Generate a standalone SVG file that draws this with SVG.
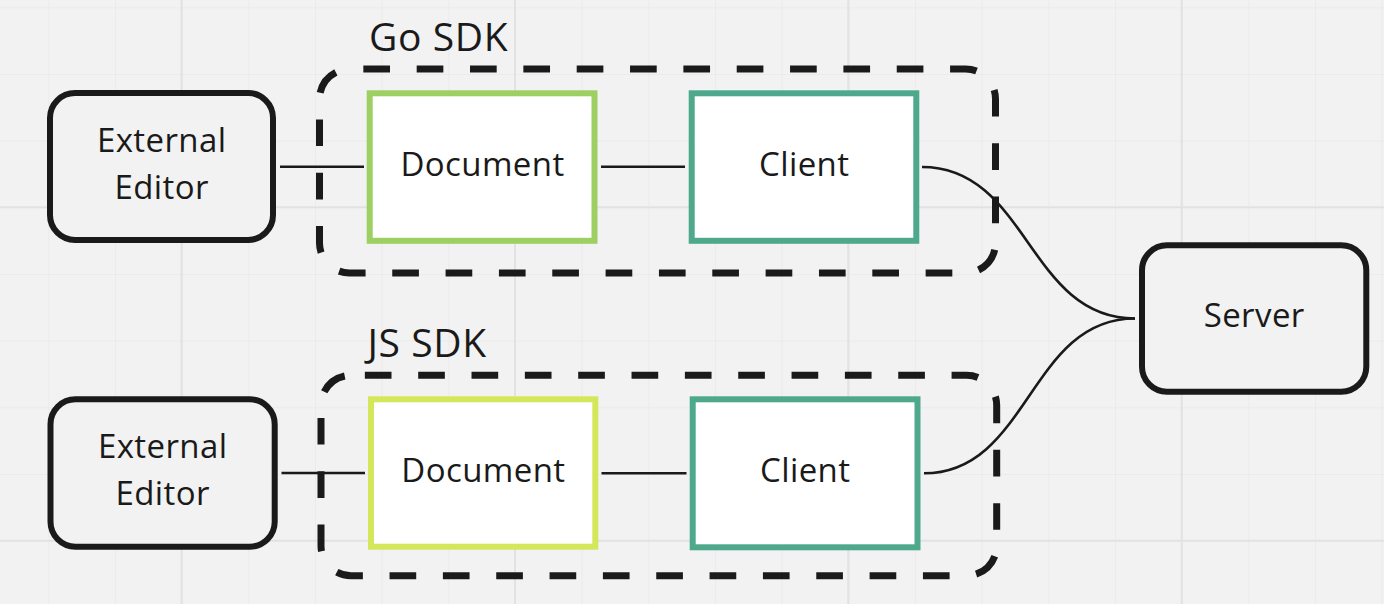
<svg xmlns="http://www.w3.org/2000/svg" width="1384" height="604" viewBox="0 0 1384 604">
<defs>
<pattern id="grid" x="48.3" y="7.3" width="66.667" height="66.667" patternUnits="userSpaceOnUse">
<path d="M0,0 V66.667 M0,0 H66.667" fill="none" stroke="#e9e9e9" stroke-width="1.5"/>
</pattern>
</defs>
<style>
.t{font-family:"Open Sans","Noto Sans","DejaVu Sans",sans-serif;fill:#1a1a1a;}
.n{font-size:33px;letter-spacing:0.4px;text-anchor:middle;}
.lbl{font-size:39px;letter-spacing:0.6px;}
.term{fill:#f2f2f2;stroke:#1a1a1a;stroke-width:6;}
.box{fill:#ffffff;stroke-width:6;}
.grp{fill:none;stroke:#1a1a1a;stroke-width:7;stroke-dasharray:26.67 26.67;}
.c{fill:none;stroke:#1a1a1a;stroke-width:2.6;}
</style>
<rect width="1384" height="604" fill="#f2f2f2"/>
<rect width="1384" height="604" fill="url(#grid)"/>
<path d="M181.6,0V604M515,0V604M848.3,0V604M1181.7,0V604M0,207.3H1384M0,540.7H1384" stroke="#e2e2e2" stroke-width="2" fill="none"/>

<g id="go-sdk">
<rect class="grp" x="319.5" y="69" width="676" height="204" rx="30" stroke-dashoffset="39.5"/>
<text class="t lbl" x="369" y="50.5">Go SDK</text>
</g>
<g id="js-sdk">
<rect class="grp" x="321" y="375.3" width="675.7" height="200.4" rx="30" stroke-dashoffset="39.5"/>
<text class="t lbl" x="367.5" y="356.7">JS SDK</text>
</g>

<g id="connectors">
<path class="c" d="M280,166.7H364"/>
<path class="c" d="M601,166.7H685"/>
<path class="c" d="M922,167 C1028,167 1028,318.5 1135,318.5"/>
<path class="c" d="M281.5,473H365"/>
<path class="c" d="M601.5,473.3H686.5"/>
<path class="c" d="M924,473.3 C1029,473.3 1029,318.5 1135,318.5"/>
</g>

<g id="external-editor-1">
<rect class="term" x="50" y="93" width="223" height="147" rx="25"/>
<text class="t n" x="161.7" y="151.7">External</text>
<text class="t n" x="161.7" y="199">Editor</text>
</g>
<g id="document-1">
<rect class="box" x="369.7" y="93.3" width="224.8" height="147.5" stroke="#9dcf63"/>
<text class="t n" x="482.5" y="175.7">Document</text>
</g>
<g id="client-1">
<rect class="box" x="691.7" y="93.3" width="224.6" height="147.5" stroke="#4ea88b"/>
<text class="t n" x="804.2" y="175.7">Client</text>
</g>
<g id="server">
<rect class="term" x="1142" y="245.2" width="224.3" height="146.6" rx="25"/>
<text class="t n" x="1254.2" y="327.3">Server</text>
</g>
<g id="external-editor-2">
<rect class="term" x="50.5" y="399.3" width="224.2" height="147.4" rx="25"/>
<text class="t n" x="162.7" y="458.3">External</text>
<text class="t n" x="162.7" y="505">Editor</text>
</g>
<g id="document-2">
<rect class="box" x="371" y="399.3" width="224.3" height="147.4" stroke="#d4e75b"/>
<text class="t n" x="483.4" y="482">Document</text>
</g>
<g id="client-2">
<rect class="box" x="692.7" y="399.3" width="224.8" height="148" stroke="#4ea88b"/>
<text class="t n" x="805.2" y="482.3">Client</text>
</g>
</svg>
